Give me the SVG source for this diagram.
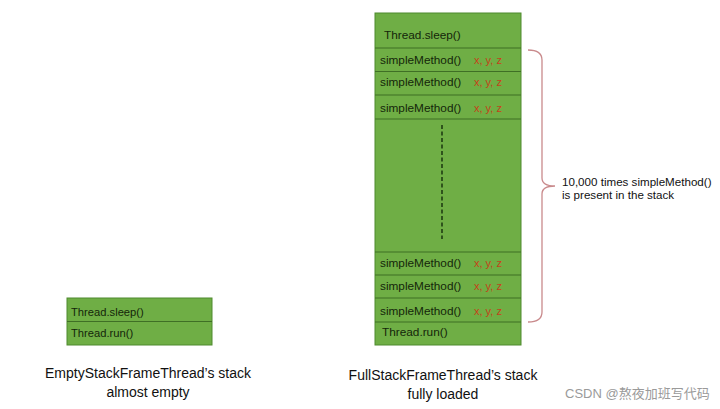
<svg xmlns="http://www.w3.org/2000/svg" width="720" height="409" viewBox="0 0 720 409">
<style>
.box{fill:#6fae45;stroke:#4f8a2e;stroke-width:1}
.sep{stroke:#3f6f25;stroke-width:1}
.t{font-family:"Liberation Sans",Arial,sans-serif;font-size:11.8px;fill:#14260a}
.r{font-family:"Liberation Sans",Arial,sans-serif;font-size:11px;fill:#c4421a}
.cap{font-family:"Liberation Sans",Arial,sans-serif;font-size:14px;fill:#111;text-anchor:middle}
.note{font-family:"Liberation Sans",Arial,sans-serif;font-size:11.6px;fill:#111}
</style>
<rect width="720" height="409" fill="#ffffff"/>
<g id="empty-stack">
<rect class="box" x="67" y="298" width="145" height="47"/>
<line class="sep" x1="67" y1="321.5" x2="212" y2="321.5"/>
<text class="t" x="71" y="316" style="font-size:11.2px">Thread.sleep()</text>
<text class="t" x="71" y="337" style="font-size:11.2px">Thread.run()</text>
</g>
<g id="full-stack">
<rect class="box" x="375" y="13" width="146" height="332"/>
<g class="sep">
<line x1="375" y1="48" x2="521" y2="48"/>
<line x1="375" y1="71.5" x2="521" y2="71.5"/>
<line x1="375" y1="95" x2="521" y2="95"/>
<line x1="375" y1="119" x2="521" y2="119"/>
<line x1="375" y1="252" x2="521" y2="252"/>
<line x1="375" y1="275" x2="521" y2="275"/>
<line x1="375" y1="298" x2="521" y2="298"/>
<line x1="375" y1="322" x2="521" y2="322"/>
</g>
<line x1="442" y1="125" x2="442" y2="239" stroke="#1f3d12" stroke-width="1.6" stroke-dasharray="4,2.5"/>
<text class="t" x="384" y="39">Thread.sleep()</text>
<text class="t" x="380" y="64">simpleMethod()</text>
<text class="r" x="474" y="64">x, y, z</text>
<text class="t" x="380" y="86">simpleMethod()</text>
<text class="r" x="474" y="86">x, y, z</text>
<text class="t" x="380" y="112">simpleMethod()</text>
<text class="r" x="474" y="112">x, y, z</text>
<text class="t" x="380" y="267">simpleMethod()</text>
<text class="r" x="474" y="267">x, y, z</text>
<text class="t" x="380" y="290">simpleMethod()</text>
<text class="r" x="474" y="290">x, y, z</text>
<text class="t" x="380" y="315">simpleMethod()</text>
<text class="r" x="474" y="315">x, y, z</text>
<text class="t" x="382" y="336">Thread.run()</text>
</g>
<g id="connectors">
<path d="M528,50 Q542,50 542,60 L542,178 Q542,186 555,186 Q542,186 542,194 L542,312 Q542,322 528,322" fill="none" stroke="#c98a8c" stroke-width="1.3"/>
</g>
<g id="note">
<text class="note" x="562" y="186">10,000 times simpleMethod()</text>
<text class="note" x="562" y="199">is present in the stack</text>
</g>
<g id="captions">
<text class="cap" x="148" y="378">EmptyStackFrameThread’s stack</text>
<text class="cap" x="148" y="397">almost empty</text>
<text class="cap" x="443" y="380">FullStackFrameThread’s stack</text>
<text class="cap" x="443" y="399">fully loaded</text>
<text x="565" y="398" font-family="Liberation Sans,'Noto Sans CJK SC',sans-serif" font-size="13" fill="#9a9a9a">CSDN @熬夜加班写代码</text>
</g>
</svg>
